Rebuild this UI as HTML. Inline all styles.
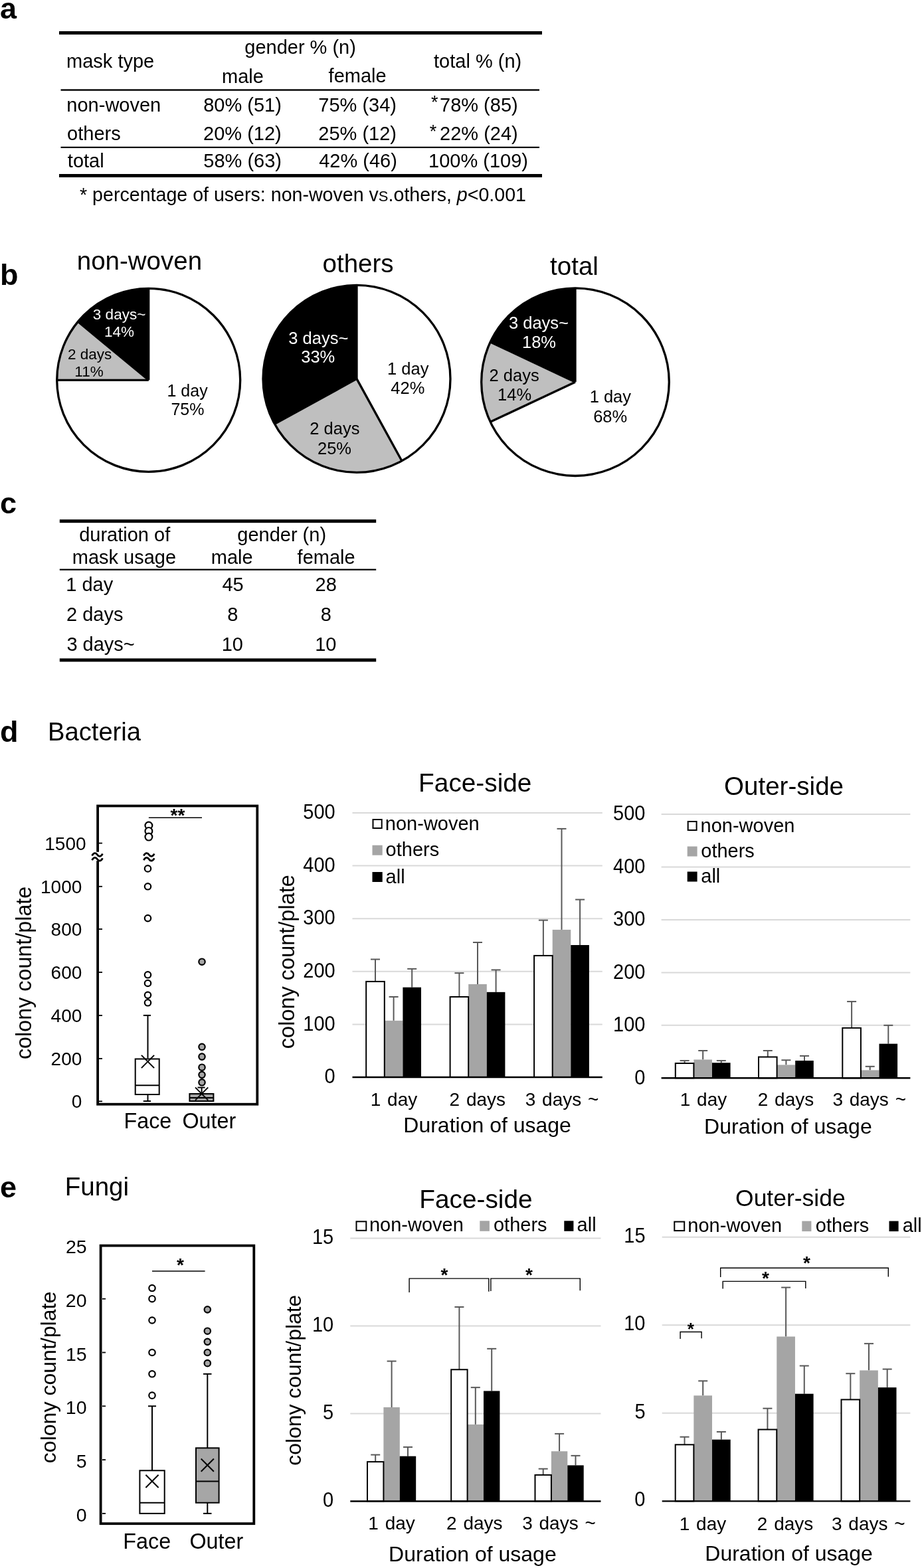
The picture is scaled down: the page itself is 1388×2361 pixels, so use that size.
<!DOCTYPE html>
<html><head><meta charset="utf-8"><title>Figure</title>
<style>
html,body{margin:0;padding:0;background:#fff;}
svg{display:block;}
text{font-family:"Liberation Sans", Arial, Helvetica, sans-serif;}
</style></head>
<body>
<svg width="1388" height="2361" viewBox="0 0 1388 2361">
<rect width="1388" height="2361" fill="#fff"/>
<text x="0" y="28.1" font-size="45" font-weight="bold">a</text>
<text x="0" y="428.7" font-size="45" font-weight="bold">b</text>
<text x="0" y="772.7" font-size="45" font-weight="bold">c</text>
<text x="0" y="1116.6" font-size="45" font-weight="bold">d</text>
<text x="0" y="1803.3" font-size="45" font-weight="bold">e</text>
<rect x="89" y="47" width="727" height="5" fill="#000"/>
<rect x="91.5" y="134.3" width="720.5" height="2.4" fill="#000"/>
<rect x="91.5" y="220.8" width="720.5" height="2.2" fill="#000"/>
<rect x="89" y="262" width="727" height="5" fill="#000"/>
<text x="100.07" y="101.7" font-size="29">mask type</text>
<text x="368.28" y="81.4" font-size="29">gender % (n)</text>
<text x="334.07" y="124.8" font-size="29">male</text>
<text x="494.59" y="124" font-size="29">female</text>
<text x="653.06" y="101.6" font-size="29">total % (n)</text>
<text x="100.37" y="167.7" font-size="29">non-woven</text>
<text x="306.24" y="167.7" font-size="29">80% (51)</text>
<text x="479.31" y="167.7" font-size="29">75% (34)</text>
<text x="662.01" y="167.7" font-size="29">78% (85)</text>
<text x="101.08" y="210.5" font-size="29">others</text>
<text x="306.04" y="210.5" font-size="29">20% (12)</text>
<text x="479.34" y="210.5" font-size="29">25% (12)</text>
<text x="662.04" y="210.5" font-size="29">22% (24)</text>
<text x="101.86" y="251.8" font-size="29">total</text>
<text x="306.34" y="251.8" font-size="29">58% (63)</text>
<text x="480.13" y="251.8" font-size="29">42% (46)</text>
<text x="645.09" y="251.8" font-size="29">100% (109)</text>
<text x="648.94" y="162.98" font-size="27">*</text>
<text x="646.74" y="206.88" font-size="27">*</text>
<text x="120.04" y="303" font-size="28.6">* percentage of users: non-woven v<tspan font-size="22">S</tspan>.others, <tspan font-style="italic">p</tspan>&lt;0.001</text>
<path d="M223.7 572.3L223.7 434.3A138 138 0 1 1 85.7 572.3Z" fill="#fff" stroke="none" stroke-width="0"/>
<path d="M223.7 572.3L85.7 572.3A138 138 0 0 1 117.37 484.34Z" fill="#bfbfbf" stroke="none" stroke-width="0"/>
<path d="M223.7 572.3L117.37 484.34A138 138 0 0 1 223.7 434.3Z" fill="#000" stroke="none" stroke-width="0"/>
<circle cx="223.7" cy="572.3" r="138" fill="none" stroke="#000" stroke-width="3.3"/>
<line x1="223.7" y1="572.3" x2="223.7" y2="434.3" stroke="#000" stroke-width="3.3"/>
<line x1="223.7" y1="572.3" x2="85.7" y2="572.3" stroke="#000" stroke-width="3.3"/>
<line x1="223.7" y1="572.3" x2="117.37" y2="484.34" stroke="#000" stroke-width="3.3"/>
<path d="M537 570.4L537 429.4A141 141 0 0 1 604.93 693.96Z" fill="#fff" stroke="none" stroke-width="0"/>
<path d="M537 570.4L604.93 693.96A141 141 0 0 1 413.44 638.33Z" fill="#bfbfbf" stroke="none" stroke-width="0"/>
<path d="M537 570.4L413.44 638.33A141 141 0 0 1 537 429.4Z" fill="#000" stroke="none" stroke-width="0"/>
<circle cx="537" cy="570.4" r="141" fill="none" stroke="#000" stroke-width="3.3"/>
<line x1="537" y1="570.4" x2="537" y2="429.4" stroke="#000" stroke-width="3.3"/>
<line x1="537" y1="570.4" x2="604.93" y2="693.96" stroke="#000" stroke-width="3.3"/>
<line x1="537" y1="570.4" x2="413.44" y2="638.33" stroke="#000" stroke-width="3.3"/>
<path d="M866 575.2L866 433.9A141.3 141.3 0 1 1 738.15 635.36Z" fill="#fff" stroke="none" stroke-width="0"/>
<path d="M866 575.2L738.15 635.36A141.3 141.3 0 0 1 738.15 515.04Z" fill="#bfbfbf" stroke="none" stroke-width="0"/>
<path d="M866 575.2L738.15 515.04A141.3 141.3 0 0 1 866 433.9Z" fill="#000" stroke="none" stroke-width="0"/>
<circle cx="866" cy="575.2" r="141.3" fill="none" stroke="#000" stroke-width="3.3"/>
<line x1="866" y1="575.2" x2="866" y2="433.9" stroke="#000" stroke-width="3.3"/>
<line x1="866" y1="575.2" x2="738.15" y2="635.36" stroke="#000" stroke-width="3.3"/>
<line x1="866" y1="575.2" x2="738.15" y2="515.04" stroke="#000" stroke-width="3.3"/>
<text x="115.74" y="405.8" font-size="38.5">non-woven</text>
<text x="485.58" y="410.3" font-size="38.5">others</text>
<text x="828.12" y="413.8" font-size="38.5">total</text>
<text x="139.86" y="481.3" font-size="22.5" fill="#fff">3 days~</text>
<text x="157.03" y="506.6" font-size="22.5" fill="#fff">14%</text>
<text x="101.99" y="541.3" font-size="22.5">2 days</text>
<text x="112.33" y="567.4" font-size="22.5">11%</text>
<text x="251.49" y="596.7" font-size="25">1 day</text>
<text x="257.39" y="625.2" font-size="25">75%</text>
<text x="434.28" y="517.5" font-size="25.5" fill="#fff">3 days~</text>
<text x="453.25" y="546.4" font-size="25.5" fill="#fff">33%</text>
<text x="583.06" y="563.7" font-size="25.5">1 day</text>
<text x="588.34" y="593.2" font-size="25.5">42%</text>
<text x="466.25" y="654" font-size="25.5">2 days</text>
<text x="477.99" y="683.5" font-size="25.5">25%</text>
<text x="765.98" y="494.5" font-size="25.5" fill="#fff">3 days~</text>
<text x="785.96" y="524" font-size="25.5" fill="#fff">18%</text>
<text x="736.55" y="574" font-size="25.5">2 days</text>
<text x="749.06" y="603.3" font-size="25.5">14%</text>
<text x="887.66" y="606.3" font-size="25.5">1 day</text>
<text x="893.19" y="635.6" font-size="25.5">68%</text>
<rect x="89.8" y="782.2" width="476.4" height="5" fill="#000"/>
<rect x="89.8" y="856.6" width="476.4" height="2.2" fill="#000"/>
<rect x="89.8" y="991.4" width="476.4" height="5" fill="#000"/>
<text x="119.18" y="814.8" font-size="29">duration of</text>
<text x="108.77" y="849" font-size="29">mask usage</text>
<text x="357.28" y="814.8" font-size="29">gender (n)</text>
<text x="317.77" y="849" font-size="29">male</text>
<text x="447.59" y="849" font-size="29">female</text>
<text x="99.29" y="890" font-size="29">1 day</text>
<text x="334.45" y="890" font-size="29">45</text>
<text x="474.57" y="890" font-size="29">28</text>
<text x="100.04" y="934.8" font-size="29">2 days</text>
<text x="342.24" y="934.8" font-size="29">8</text>
<text x="482.74" y="934.8" font-size="29">8</text>
<text x="100.4" y="980" font-size="29">3 days~</text>
<text x="333.63" y="980" font-size="29">10</text>
<text x="474.13" y="980" font-size="29">10</text>
<text x="71.97" y="1115.3" font-size="38.2">Bacteria</text>
<text x="97.74" y="1799.9" font-size="38.5">Fungi</text>
<rect x="147.1" y="1213.5" width="240.2" height="449.2" fill="none" stroke="#000" stroke-width="3.8"/>
<line x1="149" y1="1269.6" x2="154" y2="1269.6" stroke="#000" stroke-width="1.8"/>
<text x="67.3" y="1279.6" font-size="28">1500</text>
<line x1="149" y1="1334.8" x2="154" y2="1334.8" stroke="#000" stroke-width="1.8"/>
<text x="61" y="1344.8" font-size="28">1000</text>
<line x1="149" y1="1399" x2="154" y2="1399" stroke="#000" stroke-width="1.8"/>
<text x="76.58" y="1409" font-size="28">800</text>
<line x1="149" y1="1464" x2="154" y2="1464" stroke="#000" stroke-width="1.8"/>
<text x="76.58" y="1474" font-size="28">600</text>
<line x1="149" y1="1529" x2="154" y2="1529" stroke="#000" stroke-width="1.8"/>
<text x="76.58" y="1539" font-size="28">400</text>
<line x1="149" y1="1594" x2="154" y2="1594" stroke="#000" stroke-width="1.8"/>
<text x="76.58" y="1604" font-size="28">200</text>
<line x1="149" y1="1658.3" x2="154" y2="1658.3" stroke="#000" stroke-width="1.8"/>
<text x="107.72" y="1668.3" font-size="28">0</text>
<text transform="translate(47.3 1464.9) rotate(-90)" x="-130.15" y="0" font-size="32.3">colony count/plate</text>
<text x="186.45" y="1699.4" font-size="32.3">Face</text>
<text x="274.47" y="1699.4" font-size="32.3">Outer</text>
<line x1="223.9" y1="1231.2" x2="304" y2="1231.2" stroke="#000" stroke-width="1.6"/>
<text x="256.58" y="1237.26" font-size="28" font-weight="bold">**</text>
<rect x="140.6" y="1282.8" width="11.8" height="13.4" fill="#fff"/>
<path d="M138.6 1288.5C140.8 1283.6 144.4 1283.6 146.5 1287S152.2 1290.4 154.4 1285.5" fill="none" stroke="#000" stroke-width="2.8"/>
<path d="M138.6 1295.3C140.8 1290.4 144.4 1290.4 146.5 1293.8S152.2 1297.2 154.4 1292.3" fill="none" stroke="#000" stroke-width="2.8"/>
<path d="M216.4 1288.5C218.6 1283.6 222.2 1283.6 224.3 1287S230 1290.4 232.2 1285.5" fill="none" stroke="#000" stroke-width="2.8"/>
<path d="M216.4 1295.3C218.6 1290.4 222.2 1290.4 224.3 1293.8S230 1297.2 232.2 1292.3" fill="none" stroke="#000" stroke-width="2.8"/>
<circle cx="223.9" cy="1243" r="5.4" fill="#fff" stroke="#000" stroke-width="2.2"/>
<circle cx="223.9" cy="1251.4" r="5.4" fill="#fff" stroke="#000" stroke-width="2.2"/>
<circle cx="223.9" cy="1260.1" r="5.4" fill="#fff" stroke="#000" stroke-width="2.2"/>
<circle cx="222.5" cy="1307.9" r="4.7" fill="#fff" stroke="#000" stroke-width="2.2"/>
<circle cx="222.5" cy="1334.8" r="4.7" fill="#fff" stroke="#000" stroke-width="2.2"/>
<circle cx="222.5" cy="1382.6" r="4.7" fill="#fff" stroke="#000" stroke-width="2.2"/>
<circle cx="222.5" cy="1467.8" r="4.7" fill="#fff" stroke="#000" stroke-width="2.2"/>
<circle cx="222.5" cy="1480.5" r="4.7" fill="#fff" stroke="#000" stroke-width="2.2"/>
<circle cx="222.5" cy="1498.3" r="4.7" fill="#fff" stroke="#000" stroke-width="2.2"/>
<circle cx="222.5" cy="1509.8" r="4.7" fill="#fff" stroke="#000" stroke-width="2.2"/>
<line x1="222.5" y1="1528.9" x2="222.5" y2="1593.5" stroke="#000" stroke-width="2"/>
<line x1="215.8" y1="1528.9" x2="227" y2="1528.9" stroke="#000" stroke-width="2"/>
<line x1="222.5" y1="1649" x2="222.5" y2="1658" stroke="#000" stroke-width="2"/>
<line x1="215.8" y1="1658" x2="227" y2="1658" stroke="#000" stroke-width="2"/>
<rect x="203.7" y="1594.5" width="36" height="53.5" fill="#fff" stroke="#000" stroke-width="2"/>
<line x1="203.7" y1="1634.2" x2="239.7" y2="1634.2" stroke="#000" stroke-width="2"/>
<line x1="212.9" y1="1588.9" x2="232.1" y2="1608.1" stroke="#000" stroke-width="2"/>
<line x1="212.9" y1="1608.1" x2="232.1" y2="1588.9" stroke="#000" stroke-width="2"/>
<circle cx="304" cy="1448.2" r="4.7" fill="#a6a6a6" stroke="#000" stroke-width="2.2"/>
<circle cx="304" cy="1576.3" r="4.7" fill="#a6a6a6" stroke="#000" stroke-width="2.2"/>
<circle cx="304" cy="1591.1" r="4.7" fill="#a6a6a6" stroke="#000" stroke-width="2.2"/>
<circle cx="304" cy="1607.2" r="4.7" fill="#a6a6a6" stroke="#000" stroke-width="2.2"/>
<circle cx="304" cy="1618.3" r="4.7" fill="#a6a6a6" stroke="#000" stroke-width="2.2"/>
<circle cx="304" cy="1629.8" r="4.7" fill="#a6a6a6" stroke="#000" stroke-width="2.2"/>
<line x1="303.6" y1="1637.5" x2="303.6" y2="1647" stroke="#000" stroke-width="2"/>
<line x1="297.5" y1="1637.5" x2="308.6" y2="1637.5" stroke="#000" stroke-width="2"/>
<rect x="285.4" y="1647" width="36" height="11" fill="#a6a6a6" stroke="#000" stroke-width="2"/>
<line x1="285.4" y1="1653" x2="321.4" y2="1653" stroke="#000" stroke-width="2"/>
<line x1="294" y1="1637.4" x2="313.2" y2="1656.6" stroke="#000" stroke-width="2"/>
<line x1="294" y1="1656.6" x2="313.2" y2="1637.4" stroke="#000" stroke-width="2"/>
<text x="630.12" y="1192.1" font-size="38.8">Face-side</text>
<line x1="530.5" y1="1542.4" x2="906.8" y2="1542.4" stroke="#d9d9d9" stroke-width="2"/>
<line x1="530.5" y1="1462.8" x2="906.8" y2="1462.8" stroke="#d9d9d9" stroke-width="2"/>
<line x1="530.5" y1="1383.2" x2="906.8" y2="1383.2" stroke="#d9d9d9" stroke-width="2"/>
<line x1="530.5" y1="1303.6" x2="906.8" y2="1303.6" stroke="#d9d9d9" stroke-width="2"/>
<line x1="530.5" y1="1224" x2="906.8" y2="1224" stroke="#d9d9d9" stroke-width="2"/>
<text transform="translate(488.6 1631.2) scale(1 1.08)" font-size="29">0</text>
<text transform="translate(456.35 1551.6) scale(1 1.08)" font-size="29">100</text>
<text transform="translate(456.35 1472) scale(1 1.08)" font-size="29">200</text>
<text transform="translate(456.35 1392.4) scale(1 1.08)" font-size="29">300</text>
<text transform="translate(456.35 1312.8) scale(1 1.08)" font-size="29">400</text>
<text transform="translate(456.35 1233.2) scale(1 1.08)" font-size="29">500</text>
<line x1="565" y1="1477.92" x2="565" y2="1444.49" stroke="#595959" stroke-width="2"/>
<line x1="558" y1="1444.49" x2="572" y2="1444.49" stroke="#595959" stroke-width="2"/>
<line x1="592.6" y1="1536.83" x2="592.6" y2="1501.01" stroke="#595959" stroke-width="2"/>
<line x1="585.6" y1="1501.01" x2="599.6" y2="1501.01" stroke="#595959" stroke-width="2"/>
<line x1="620.2" y1="1486.68" x2="620.2" y2="1458.82" stroke="#595959" stroke-width="2"/>
<line x1="613.2" y1="1458.82" x2="627.2" y2="1458.82" stroke="#595959" stroke-width="2"/>
<line x1="691.4" y1="1501.01" x2="691.4" y2="1465.19" stroke="#595959" stroke-width="2"/>
<line x1="684.4" y1="1465.19" x2="698.4" y2="1465.19" stroke="#595959" stroke-width="2"/>
<line x1="719" y1="1481.9" x2="719" y2="1419.02" stroke="#595959" stroke-width="2"/>
<line x1="712" y1="1419.02" x2="726" y2="1419.02" stroke="#595959" stroke-width="2"/>
<line x1="746.6" y1="1493.84" x2="746.6" y2="1460.41" stroke="#595959" stroke-width="2"/>
<line x1="739.6" y1="1460.41" x2="753.6" y2="1460.41" stroke="#595959" stroke-width="2"/>
<line x1="817.9" y1="1438.92" x2="817.9" y2="1385.59" stroke="#595959" stroke-width="2"/>
<line x1="810.9" y1="1385.59" x2="824.9" y2="1385.59" stroke="#595959" stroke-width="2"/>
<line x1="845.5" y1="1399.92" x2="845.5" y2="1247.88" stroke="#595959" stroke-width="2"/>
<line x1="838.5" y1="1247.88" x2="852.5" y2="1247.88" stroke="#595959" stroke-width="2"/>
<line x1="873.1" y1="1423" x2="873.1" y2="1354.54" stroke="#595959" stroke-width="2"/>
<line x1="866.1" y1="1354.54" x2="880.1" y2="1354.54" stroke="#595959" stroke-width="2"/>
<rect x="578.8" y="1536.83" width="27.6" height="85.17" fill="#a5a5a5"/>
<rect x="606.4" y="1486.68" width="27.6" height="135.32" fill="#000"/>
<rect x="551.2" y="1477.92" width="27.6" height="144.08" fill="#fff" stroke="#000" stroke-width="2"/>
<rect x="705.2" y="1481.9" width="27.6" height="140.1" fill="#a5a5a5"/>
<rect x="732.8" y="1493.84" width="27.6" height="128.16" fill="#000"/>
<rect x="677.6" y="1501.01" width="27.6" height="120.99" fill="#fff" stroke="#000" stroke-width="2"/>
<rect x="831.7" y="1399.92" width="27.6" height="222.08" fill="#a5a5a5"/>
<rect x="859.3" y="1423" width="27.6" height="199" fill="#000"/>
<rect x="804.1" y="1438.92" width="27.6" height="183.08" fill="#fff" stroke="#000" stroke-width="2"/>
<line x1="530.5" y1="1622" x2="906.8" y2="1622" stroke="#000" stroke-width="2.4"/>
<rect x="561.5" y="1234" width="13.2" height="13" fill="#fff" stroke="#000" stroke-width="2"/>
<text x="579.87" y="1249.5" font-size="29">non-woven</text>
<rect x="560.5" y="1272.7" width="15.2" height="15" fill="#a5a5a5"/>
<text x="580.58" y="1289.2" font-size="29">others</text>
<rect x="560.5" y="1313" width="15.2" height="15" fill="#000"/>
<text x="580.57" y="1329.5" font-size="29">all</text>
<text transform="translate(442.8 1448.2) rotate(-90)" x="-130.96" y="0" font-size="32.5">colony count/plate</text>
<text x="557.71" y="1665.3" font-size="28" word-spacing="2">1 day</text>
<text x="676.55" y="1665.3" font-size="28" word-spacing="2">2 days</text>
<text x="790.78" y="1665.3" font-size="28" word-spacing="2">3 days ~</text>
<text x="607.29" y="1705.3" font-size="32">Duration of usage</text>
<text x="1089.97" y="1196.7" font-size="38.6">Outer-side</text>
<line x1="995.6" y1="1543.84" x2="1370.4" y2="1543.84" stroke="#d9d9d9" stroke-width="2"/>
<line x1="995.6" y1="1464.38" x2="1370.4" y2="1464.38" stroke="#d9d9d9" stroke-width="2"/>
<line x1="995.6" y1="1384.92" x2="1370.4" y2="1384.92" stroke="#d9d9d9" stroke-width="2"/>
<line x1="995.6" y1="1305.46" x2="1370.4" y2="1305.46" stroke="#d9d9d9" stroke-width="2"/>
<line x1="995.6" y1="1226" x2="1370.4" y2="1226" stroke="#d9d9d9" stroke-width="2"/>
<text transform="translate(955.3 1632.5) scale(1 1.08)" font-size="29">0</text>
<text transform="translate(923.05 1553.04) scale(1 1.08)" font-size="29">100</text>
<text transform="translate(923.05 1473.58) scale(1 1.08)" font-size="29">200</text>
<text transform="translate(923.05 1394.12) scale(1 1.08)" font-size="29">300</text>
<text transform="translate(923.05 1314.66) scale(1 1.08)" font-size="29">400</text>
<text transform="translate(923.05 1235.2) scale(1 1.08)" font-size="29">500</text>
<line x1="1030.6" y1="1601.05" x2="1030.6" y2="1597.08" stroke="#595959" stroke-width="2"/>
<line x1="1023.6" y1="1597.08" x2="1037.6" y2="1597.08" stroke="#595959" stroke-width="2"/>
<line x1="1058.2" y1="1595.49" x2="1058.2" y2="1581.98" stroke="#595959" stroke-width="2"/>
<line x1="1051.2" y1="1581.98" x2="1065.2" y2="1581.98" stroke="#595959" stroke-width="2"/>
<line x1="1085.8" y1="1600.26" x2="1085.8" y2="1597.08" stroke="#595959" stroke-width="2"/>
<line x1="1078.8" y1="1597.08" x2="1092.8" y2="1597.08" stroke="#595959" stroke-width="2"/>
<line x1="1155.8" y1="1591.52" x2="1155.8" y2="1581.98" stroke="#595959" stroke-width="2"/>
<line x1="1148.8" y1="1581.98" x2="1162.8" y2="1581.98" stroke="#595959" stroke-width="2"/>
<line x1="1183.4" y1="1603.43" x2="1183.4" y2="1596.28" stroke="#595959" stroke-width="2"/>
<line x1="1176.4" y1="1596.28" x2="1190.4" y2="1596.28" stroke="#595959" stroke-width="2"/>
<line x1="1211" y1="1597.08" x2="1211" y2="1589.93" stroke="#595959" stroke-width="2"/>
<line x1="1204" y1="1589.93" x2="1218" y2="1589.93" stroke="#595959" stroke-width="2"/>
<line x1="1282.1" y1="1547.81" x2="1282.1" y2="1508.08" stroke="#595959" stroke-width="2"/>
<line x1="1275.1" y1="1508.08" x2="1289.1" y2="1508.08" stroke="#595959" stroke-width="2"/>
<line x1="1309.7" y1="1611.38" x2="1309.7" y2="1605.82" stroke="#595959" stroke-width="2"/>
<line x1="1302.7" y1="1605.82" x2="1316.7" y2="1605.82" stroke="#595959" stroke-width="2"/>
<line x1="1337.3" y1="1571.65" x2="1337.3" y2="1543.84" stroke="#595959" stroke-width="2"/>
<line x1="1330.3" y1="1543.84" x2="1344.3" y2="1543.84" stroke="#595959" stroke-width="2"/>
<rect x="1044.4" y="1595.49" width="27.6" height="27.81" fill="#a5a5a5"/>
<rect x="1072" y="1600.26" width="27.6" height="23.04" fill="#000"/>
<rect x="1016.8" y="1601.05" width="27.6" height="22.25" fill="#fff" stroke="#000" stroke-width="2"/>
<rect x="1169.6" y="1603.43" width="27.6" height="19.87" fill="#a5a5a5"/>
<rect x="1197.2" y="1597.08" width="27.6" height="26.22" fill="#000"/>
<rect x="1142" y="1591.52" width="27.6" height="31.78" fill="#fff" stroke="#000" stroke-width="2"/>
<rect x="1295.9" y="1611.38" width="27.6" height="11.92" fill="#a5a5a5"/>
<rect x="1323.5" y="1571.65" width="27.6" height="51.65" fill="#000"/>
<rect x="1268.3" y="1547.81" width="27.6" height="75.49" fill="#fff" stroke="#000" stroke-width="2"/>
<line x1="995.6" y1="1623.3" x2="1370.4" y2="1623.3" stroke="#000" stroke-width="2.4"/>
<rect x="1035.7" y="1237" width="12.9" height="13" fill="#fff" stroke="#000" stroke-width="2"/>
<text x="1054.57" y="1252.5" font-size="29">non-woven</text>
<rect x="1034.7" y="1274.5" width="14.9" height="15" fill="#a5a5a5"/>
<text x="1055.28" y="1291" font-size="29">others</text>
<rect x="1034.7" y="1312.5" width="14.9" height="15" fill="#000"/>
<text x="1055.27" y="1329" font-size="29">all</text>
<text x="1023.71" y="1665.3" font-size="28" word-spacing="2">1 day</text>
<text x="1140.75" y="1665.3" font-size="28" word-spacing="2">2 days</text>
<text x="1253.38" y="1665.3" font-size="28" word-spacing="2">3 days ~</text>
<text x="1060.09" y="1706.6" font-size="32">Duration of usage</text>
<rect x="151.6" y="1875.6" width="230.7" height="418.6" fill="none" stroke="#000" stroke-width="3.8"/>
<line x1="154" y1="2278.9" x2="159" y2="2278.9" stroke="#000" stroke-width="1.8"/>
<text x="114.66" y="2290.9" font-size="28.5">0</text>
<line x1="154" y1="2198.1" x2="159" y2="2198.1" stroke="#000" stroke-width="1.8"/>
<text x="114.75" y="2210.1" font-size="28.5">5</text>
<line x1="154" y1="2117.3" x2="159" y2="2117.3" stroke="#000" stroke-width="1.8"/>
<text x="98.81" y="2129.3" font-size="28.5">10</text>
<line x1="154" y1="2036.5" x2="159" y2="2036.5" stroke="#000" stroke-width="1.8"/>
<text x="98.9" y="2048.5" font-size="28.5">15</text>
<line x1="154" y1="1955.7" x2="159" y2="1955.7" stroke="#000" stroke-width="1.8"/>
<text x="98.81" y="1967.7" font-size="28.5">20</text>
<line x1="154" y1="1874.9" x2="159" y2="1874.9" stroke="#000" stroke-width="1.8"/>
<text x="98.9" y="1886.9" font-size="28.5">25</text>
<text transform="translate(83.5 2073.9) rotate(-90)" x="-129.35" y="0" font-size="32.1">colony count/plate</text>
<text x="185.35" y="2331.9" font-size="32.3">Face</text>
<text x="285.47" y="2331.9" font-size="32.3">Outer</text>
<line x1="229" y1="1914" x2="308.6" y2="1914" stroke="#000" stroke-width="1.6"/>
<text x="266.12" y="1913.86" font-size="28" font-weight="bold">*</text>
<circle cx="229" cy="2101.14" r="4.7" fill="#fff" stroke="#000" stroke-width="2.2"/>
<circle cx="229" cy="2068.82" r="4.7" fill="#fff" stroke="#000" stroke-width="2.2"/>
<circle cx="229" cy="2036.5" r="4.7" fill="#fff" stroke="#000" stroke-width="2.2"/>
<circle cx="229" cy="1988.02" r="4.7" fill="#fff" stroke="#000" stroke-width="2.2"/>
<circle cx="229" cy="1955.7" r="4.7" fill="#fff" stroke="#000" stroke-width="2.2"/>
<circle cx="229" cy="1939.54" r="4.7" fill="#fff" stroke="#000" stroke-width="2.2"/>
<circle cx="312.3" cy="2052.66" r="4.7" fill="#a6a6a6" stroke="#000" stroke-width="2.2"/>
<circle cx="312.3" cy="2036.5" r="4.7" fill="#a6a6a6" stroke="#000" stroke-width="2.2"/>
<circle cx="312.3" cy="2020.34" r="4.7" fill="#a6a6a6" stroke="#000" stroke-width="2.2"/>
<circle cx="312.3" cy="2004.18" r="4.7" fill="#a6a6a6" stroke="#000" stroke-width="2.2"/>
<circle cx="312.3" cy="1971.86" r="4.7" fill="#a6a6a6" stroke="#000" stroke-width="2.2"/>
<line x1="229" y1="2117.3" x2="229" y2="2214.26" stroke="#000" stroke-width="2"/>
<line x1="223" y1="2117.3" x2="235" y2="2117.3" stroke="#000" stroke-width="2"/>
<rect x="210.4" y="2214.26" width="37.3" height="64.64" fill="#fff" stroke="#000" stroke-width="2"/>
<line x1="210.4" y1="2262.74" x2="247.7" y2="2262.74" stroke="#000" stroke-width="2"/>
<line x1="219.4" y1="2220.82" x2="238.6" y2="2240.02" stroke="#000" stroke-width="2"/>
<line x1="219.4" y1="2240.02" x2="238.6" y2="2220.82" stroke="#000" stroke-width="2"/>
<line x1="312.3" y1="2068.82" x2="312.3" y2="2180.32" stroke="#000" stroke-width="2"/>
<line x1="306" y1="2068.82" x2="318.5" y2="2068.82" stroke="#000" stroke-width="2"/>
<line x1="312.3" y1="2262.74" x2="312.3" y2="2278.9" stroke="#000" stroke-width="2"/>
<line x1="306" y1="2278.9" x2="318.5" y2="2278.9" stroke="#000" stroke-width="2"/>
<rect x="295" y="2180.32" width="34.6" height="82.42" fill="#a6a6a6" stroke="#000" stroke-width="2"/>
<line x1="295" y1="2230.42" x2="329.6" y2="2230.42" stroke="#000" stroke-width="2"/>
<line x1="302.7" y1="2196.58" x2="321.9" y2="2215.78" stroke="#000" stroke-width="2"/>
<line x1="302.7" y1="2215.78" x2="321.9" y2="2196.58" stroke="#000" stroke-width="2"/>
<text x="631.22" y="1819" font-size="38.8">Face-side</text>
<line x1="527.3" y1="2128.5" x2="904.5" y2="2128.5" stroke="#d9d9d9" stroke-width="2"/>
<line x1="527.3" y1="1996.5" x2="904.5" y2="1996.5" stroke="#d9d9d9" stroke-width="2"/>
<line x1="527.3" y1="1864.5" x2="904.5" y2="1864.5" stroke="#d9d9d9" stroke-width="2"/>
<text transform="translate(486 2268.5) scale(1 1.08)" font-size="29">0</text>
<text transform="translate(486.09 2136.5) scale(1 1.08)" font-size="29">5</text>
<text transform="translate(469.88 2004.5) scale(1 1.08)" font-size="29">10</text>
<text transform="translate(469.96 1872.5) scale(1 1.08)" font-size="29">15</text>
<line x1="565.2" y1="2201.1" x2="565.2" y2="2190.54" stroke="#595959" stroke-width="2"/>
<line x1="558.2" y1="2190.54" x2="572.2" y2="2190.54" stroke="#595959" stroke-width="2"/>
<line x1="589.6" y1="2119" x2="589.6" y2="2049.56" stroke="#595959" stroke-width="2"/>
<line x1="582.6" y1="2049.56" x2="596.6" y2="2049.56" stroke="#595959" stroke-width="2"/>
<line x1="614" y1="2192.65" x2="614" y2="2178.92" stroke="#595959" stroke-width="2"/>
<line x1="607" y1="2178.92" x2="621" y2="2178.92" stroke="#595959" stroke-width="2"/>
<line x1="691.4" y1="2062.24" x2="691.4" y2="1967.99" stroke="#595959" stroke-width="2"/>
<line x1="684.4" y1="1967.99" x2="698.4" y2="1967.99" stroke="#595959" stroke-width="2"/>
<line x1="715.8" y1="2144.87" x2="715.8" y2="2089.16" stroke="#595959" stroke-width="2"/>
<line x1="708.8" y1="2089.16" x2="722.8" y2="2089.16" stroke="#595959" stroke-width="2"/>
<line x1="740.2" y1="2094.44" x2="740.2" y2="2030.82" stroke="#595959" stroke-width="2"/>
<line x1="733.2" y1="2030.82" x2="747.2" y2="2030.82" stroke="#595959" stroke-width="2"/>
<line x1="817.7" y1="2220.9" x2="817.7" y2="2211.66" stroke="#595959" stroke-width="2"/>
<line x1="810.7" y1="2211.66" x2="824.7" y2="2211.66" stroke="#595959" stroke-width="2"/>
<line x1="842.1" y1="2185.26" x2="842.1" y2="2158.86" stroke="#595959" stroke-width="2"/>
<line x1="835.1" y1="2158.86" x2="849.1" y2="2158.86" stroke="#595959" stroke-width="2"/>
<line x1="866.5" y1="2206.38" x2="866.5" y2="2191.86" stroke="#595959" stroke-width="2"/>
<line x1="859.5" y1="2191.86" x2="873.5" y2="2191.86" stroke="#595959" stroke-width="2"/>
<rect x="577.4" y="2119" width="24.4" height="141.5" fill="#a5a5a5"/>
<rect x="601.8" y="2192.65" width="24.4" height="67.85" fill="#000"/>
<rect x="553" y="2201.1" width="24.4" height="59.4" fill="#fff" stroke="#000" stroke-width="2"/>
<rect x="703.6" y="2144.87" width="24.4" height="115.63" fill="#a5a5a5"/>
<rect x="728" y="2094.44" width="24.4" height="166.06" fill="#000"/>
<rect x="679.2" y="2062.24" width="24.4" height="198.26" fill="#fff" stroke="#000" stroke-width="2"/>
<rect x="829.9" y="2185.26" width="24.4" height="75.24" fill="#a5a5a5"/>
<rect x="854.3" y="2206.38" width="24.4" height="54.12" fill="#000"/>
<rect x="805.5" y="2220.9" width="24.4" height="39.6" fill="#fff" stroke="#000" stroke-width="2"/>
<line x1="527.3" y1="2260.5" x2="904.5" y2="2260.5" stroke="#000" stroke-width="2.4"/>
<rect x="536.5" y="1839.3" width="14.8" height="13.5" fill="#fff" stroke="#000" stroke-width="2"/>
<text x="555.97" y="1854.3" font-size="29">non-woven</text>
<rect x="722.3" y="1838.3" width="14.6" height="15.5" fill="#a5a5a5"/>
<text x="742.98" y="1854.3" font-size="29">others</text>
<rect x="849.3" y="1838.3" width="14.1" height="15.5" fill="#000"/>
<text x="868.57" y="1854.3" font-size="29">all</text>
<path d="M616.1 1946V1925.1H735.8V1944.7" fill="none" stroke="#000" stroke-width="1.4" stroke-linejoin="miter"/>
<path d="M738.9 1943.9V1925.1H873.3V1943.3" fill="none" stroke="#000" stroke-width="1.4" stroke-linejoin="miter"/>
<text x="663.52" y="1929.06" font-size="28" font-weight="bold">*</text>
<text x="790.92" y="1929.06" font-size="28" font-weight="bold">*</text>
<text transform="translate(452.8 2078.2) rotate(-90)" x="-128.54" y="0" font-size="31.9">colony count/plate</text>
<text x="554.31" y="2303" font-size="28" word-spacing="2">1 day</text>
<text x="672.05" y="2303" font-size="28" word-spacing="2">2 days</text>
<text x="786.18" y="2303" font-size="28" word-spacing="2">3 days ~</text>
<text x="585.09" y="2351" font-size="32">Duration of usage</text>
<text x="1107.02" y="1815.5" font-size="35.5">Outer-side</text>
<line x1="996.7" y1="2127.85" x2="1370.4" y2="2127.85" stroke="#d9d9d9" stroke-width="2"/>
<line x1="996.7" y1="1995.3" x2="1370.4" y2="1995.3" stroke="#d9d9d9" stroke-width="2"/>
<line x1="996.7" y1="1862.75" x2="1370.4" y2="1862.75" stroke="#d9d9d9" stroke-width="2"/>
<text transform="translate(955.3 2268.4) scale(1 1.08)" font-size="29">0</text>
<text transform="translate(955.39 2135.85) scale(1 1.08)" font-size="29">5</text>
<text transform="translate(939.18 2003.3) scale(1 1.08)" font-size="29">10</text>
<text transform="translate(939.26 1870.75) scale(1 1.08)" font-size="29">15</text>
<line x1="1030.54" y1="2175.3" x2="1030.54" y2="2163.64" stroke="#595959" stroke-width="2"/>
<line x1="1023.54" y1="2163.64" x2="1037.54" y2="2163.64" stroke="#595959" stroke-width="2"/>
<line x1="1058.21" y1="2101.34" x2="1058.21" y2="2079.34" stroke="#595959" stroke-width="2"/>
<line x1="1051.21" y1="2079.34" x2="1065.21" y2="2079.34" stroke="#595959" stroke-width="2"/>
<line x1="1085.88" y1="2167.62" x2="1085.88" y2="2155.95" stroke="#595959" stroke-width="2"/>
<line x1="1078.88" y1="2155.95" x2="1092.88" y2="2155.95" stroke="#595959" stroke-width="2"/>
<line x1="1155.43" y1="2152.5" x2="1155.43" y2="2120.69" stroke="#595959" stroke-width="2"/>
<line x1="1148.43" y1="2120.69" x2="1162.43" y2="2120.69" stroke="#595959" stroke-width="2"/>
<line x1="1183.11" y1="2012.53" x2="1183.11" y2="1938.57" stroke="#595959" stroke-width="2"/>
<line x1="1176.11" y1="1938.57" x2="1190.11" y2="1938.57" stroke="#595959" stroke-width="2"/>
<line x1="1210.77" y1="2098.69" x2="1210.77" y2="2056.54" stroke="#595959" stroke-width="2"/>
<line x1="1203.77" y1="2056.54" x2="1217.77" y2="2056.54" stroke="#595959" stroke-width="2"/>
<line x1="1280.34" y1="2107.44" x2="1280.34" y2="2068.2" stroke="#595959" stroke-width="2"/>
<line x1="1273.34" y1="2068.2" x2="1287.34" y2="2068.2" stroke="#595959" stroke-width="2"/>
<line x1="1308.01" y1="2063.43" x2="1308.01" y2="2023.14" stroke="#595959" stroke-width="2"/>
<line x1="1301.01" y1="2023.14" x2="1315.01" y2="2023.14" stroke="#595959" stroke-width="2"/>
<line x1="1335.67" y1="2089.15" x2="1335.67" y2="2061.58" stroke="#595959" stroke-width="2"/>
<line x1="1328.67" y1="2061.58" x2="1342.67" y2="2061.58" stroke="#595959" stroke-width="2"/>
<rect x="1044.37" y="2101.34" width="27.67" height="159.06" fill="#a5a5a5"/>
<rect x="1072.04" y="2167.62" width="27.67" height="92.78" fill="#000"/>
<rect x="1016.7" y="2175.3" width="27.67" height="85.1" fill="#fff" stroke="#000" stroke-width="2"/>
<rect x="1169.27" y="2012.53" width="27.67" height="247.87" fill="#a5a5a5"/>
<rect x="1196.94" y="2098.69" width="27.67" height="161.71" fill="#000"/>
<rect x="1141.6" y="2152.5" width="27.67" height="107.9" fill="#fff" stroke="#000" stroke-width="2"/>
<rect x="1294.17" y="2063.43" width="27.67" height="196.97" fill="#a5a5a5"/>
<rect x="1321.84" y="2089.15" width="27.67" height="171.25" fill="#000"/>
<rect x="1266.5" y="2107.44" width="27.67" height="152.96" fill="#fff" stroke="#000" stroke-width="2"/>
<line x1="996.7" y1="2260.4" x2="1370.4" y2="2260.4" stroke="#000" stroke-width="2.4"/>
<rect x="1015.3" y="1839.6" width="14.9" height="13.5" fill="#fff" stroke="#000" stroke-width="2"/>
<text x="1035.37" y="1854.6" font-size="29">non-woven</text>
<rect x="1207.3" y="1838.6" width="14.1" height="15.5" fill="#a5a5a5"/>
<text x="1227.78" y="1854.6" font-size="29">others</text>
<rect x="1338.5" y="1838.6" width="14.1" height="15.5" fill="#000"/>
<text x="1358.67" y="1854.6" font-size="29">all</text>
<path d="M1084.7 1923V1909.3H1337.3V1922.4" fill="none" stroke="#000" stroke-width="1.4" stroke-linejoin="miter"/>
<path d="M1088.2 1940.5V1929.4H1212.8V1940.1" fill="none" stroke="#000" stroke-width="1.4" stroke-linejoin="miter"/>
<path d="M1024.1 2016.1V2005.5H1056.1V2015.3" fill="none" stroke="#000" stroke-width="1.4" stroke-linejoin="miter"/>
<text x="1209.02" y="1910.96" font-size="28" font-weight="bold">*</text>
<text x="1146.92" y="1933.56" font-size="28" font-weight="bold">*</text>
<text x="1034.72" y="2009.79" font-size="26" font-weight="bold">*</text>
<text x="1022.71" y="2303.8" font-size="28" word-spacing="2">1 day</text>
<text x="1139.85" y="2303.8" font-size="28" word-spacing="2">2 days</text>
<text x="1251.98" y="2303.8" font-size="28" word-spacing="2">3 days ~</text>
<text x="1061.29" y="2349.6" font-size="32">Duration of usage</text>
</svg>
</body></html>
